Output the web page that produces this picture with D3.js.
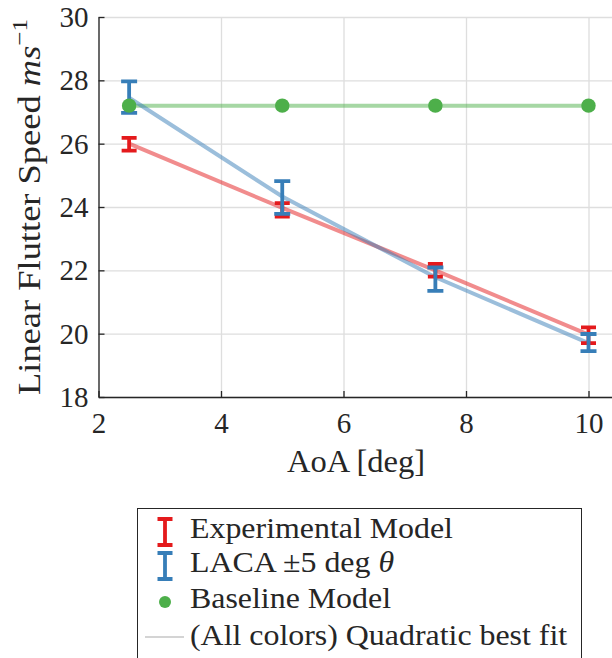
<!DOCTYPE html>
<html>
<head>
<meta charset="utf-8">
<script src="https://cdn.jsdelivr.net/npm/d3@7"></script>
</head>
<body style="margin:0;background:#fff">
<script>
// data
const aoa = [2.5, 5, 7.5, 10];
const expMean = [25.98, 23.91, 22.0, 19.95];
const expErr = [0.2, 0.21, 0.2, 0.25];
const lacaMean = [27.47, 24.3, 21.72, 19.72];
const lacaErr = [0.5, 0.52, 0.37, 0.27];
const baseline = [27.2, 27.2, 27.2, 27.2];
const expFit = [26.0, 23.97, 22.0, 19.97];
const lacaFit = [27.45, 24.33, 21.78, 19.7];
const baseFit = [27.2, 27.2, 27.2, 27.2];
const xTicks = [2, 4, 6, 8, 10];
const yTicks = [18, 20, 22, 24, 26, 28, 30];
const legendLabels = ["Experimental Model", "LACA \u00b15 deg ", "Baseline Model", "(All colors) Quadratic best fit"];

var red = "#e41a1c", blue = "#377eb8", green = "#4daf4a";
var ink = "#262626";
var w = 612, h = 658;
var serif = "'Liberation Serif'";

var x = d3.scaleLinear().domain([2, 10.4]).range([98.5, 613]);
var y = d3.scaleLinear().domain([18, 30]).range([397, 17]);

var svg = d3.select("body").append("svg")
    .attr("width", w)
    .attr("height", h)
    .style("display", "block");

// grid
svg.append("g")
    .attr("transform", "translate(0,397)")
    .call(d3.axisBottom(x).tickValues(xTicks).tickSize(-380).tickFormat(""))
    .call(g => g.select(".domain").remove())
    .selectAll("line").attr("stroke", "#dedede").attr("stroke-width", 1.3);
svg.append("g")
    .attr("transform", "translate(98.5,0)")
    .call(d3.axisLeft(y).tickValues(yTicks).tickSize(-520).tickFormat(""))
    .call(g => g.select(".domain").remove())
    .selectAll("line").attr("stroke", "#dedede").attr("stroke-width", 1.3);

// best fit lines
var line = d3.line().x((d, i) => x(aoa[i])).y(d => y(d));
[[baseFit, green], [expFit, red], [lacaFit, blue]].forEach(function(s) {
  svg.append("path")
      .datum(s[0])
      .attr("d", line)
      .attr("fill", "none")
      .attr("stroke", s[1])
      .attr("stroke-opacity", 0.5)
      .attr("stroke-width", 4);
});

function errorBars(means, errs, color, cap) {
  svg.append("g").selectAll("path")
    .data(aoa.map((a, i) => ({a: a, lo: means[i] - errs[i], hi: means[i] + errs[i]})))
    .join("path")
      .attr("d", function(d) {
        var cx = x(d.a), t = y(d.hi), b = y(d.lo);
        return "M" + (cx - cap) + "," + t + "H" + (cx + cap) +
               "M" + cx + "," + t + "V" + b +
               "M" + (cx - cap) + "," + b + "H" + (cx + cap);
      })
      .attr("fill", "none")
      .attr("stroke", color)
      .attr("stroke-width", 3.8);
}
errorBars(expMean, expErr, red, 7.5);
errorBars(lacaMean, lacaErr, blue, 8);

svg.append("g").selectAll("circle")
    .data(baseline)
    .join("circle")
      .attr("cx", (d, i) => x(aoa[i]))
      .attr("cy", d => y(d))
      .attr("r", 7.2)
      .attr("fill", green);

// axes, ticks pointing inward
var xAxis = svg.append("g")
    .attr("transform", "translate(0,397)")
    .call(d3.axisBottom(x).tickValues(xTicks).tickSizeInner(-6).tickSizeOuter(0).tickPadding(0));
var yAxis = svg.append("g")
    .attr("transform", "translate(98.5,0)")
    .call(d3.axisLeft(y).tickValues(yTicks).tickSizeInner(-6).tickSizeOuter(0).tickPadding(0));
[xAxis, yAxis].forEach(function(a) {
  a.attr("font-family", "Liberation Serif");
  a.select(".domain").attr("stroke", ink).attr("stroke-width", 1.3);
  a.selectAll("line").attr("stroke", ink).attr("stroke-width", 1.3);
  a.selectAll("text")
      .attr("fill", ink)
      .style("font-family", serif)
      .attr("font-size", 29);
});
xAxis.selectAll("text").attr("y", 36).attr("dy", null);
yAxis.selectAll("text").attr("x", -10).attr("dy", 9.5);

// axis labels
function label(sel, size) {
  return sel.style("font-family", serif).attr("font-size", size).attr("fill", ink);
}
label(svg.append("text"), 31)
    .attr("transform", "translate(356,472) scale(1.05,1)")
    .attr("text-anchor", "middle")
    .text("AoA [deg]");

var yl = label(svg.append("text"), 32)
    .attr("transform", "translate(40,207) rotate(-90) scale(1.14,1)")
    .attr("text-anchor", "middle");
yl.append("tspan").text("Linear Flutter Speed ");
yl.append("tspan").style("font-style", "italic").text("ms");
yl.append("tspan").attr("font-size", 22).attr("dy", -13).text("\u22121");

// legend
var lg = svg.append("g");
lg.append("rect")
    .attr("x", 137.5).attr("y", 508.5)
    .attr("width", 444).attr("height", 200)
    .attr("fill", "#fff").attr("stroke", ink).attr("stroke-width", 1);

var rowY = [538, 572, 608, 645];
[red, blue].forEach(function(c, i) {
  var cy = rowY[i] - 6, cx = 165;
  lg.append("path")
      .attr("d", "M" + (cx - 7.5) + "," + (cy - 13) + "H" + (cx + 7.5) +
                 "M" + cx + "," + (cy - 13) + "V" + (cy + 13) +
                 "M" + (cx - 7.5) + "," + (cy + 13) + "H" + (cx + 7.5))
      .attr("fill", "none").attr("stroke", c).attr("stroke-width", 3.8);
});
lg.append("circle").attr("cx", 165).attr("cy", rowY[2] - 6).attr("r", 6).attr("fill", green);
lg.append("line")
    .attr("x1", 145).attr("x2", 184)
    .attr("y1", rowY[3] - 8).attr("y2", rowY[3] - 8)
    .attr("stroke", "#aaaaaa").attr("stroke-width", 1.2);

legendLabels.forEach(function(t, i) {
  var tx = label(lg.append("text"), 29)
      .attr("transform", "translate(190," + rowY[i] + ") scale(1.1,1)")
      .text(t);
  if (i === 1) tx.append("tspan").style("font-style", "italic").text("\u03b8");
});
</script>
</body>
</html>
